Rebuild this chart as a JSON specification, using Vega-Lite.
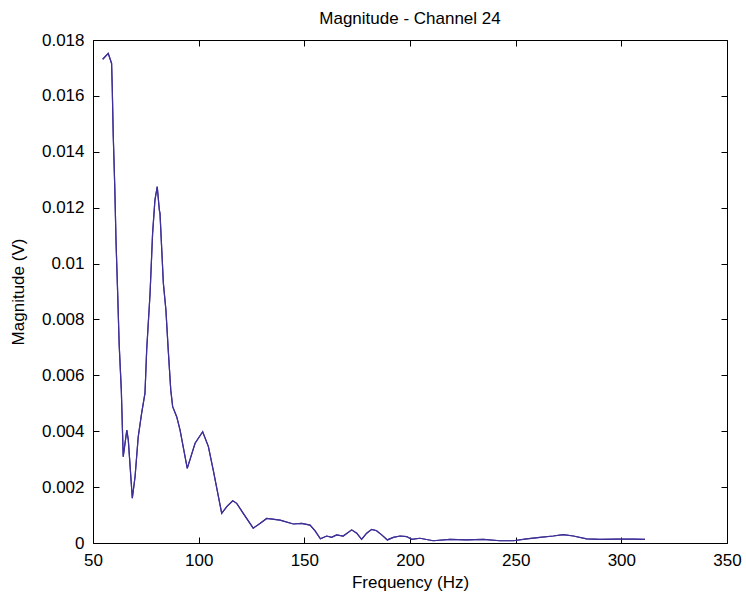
{
  "$schema": "https://vega.github.io/schema/vega-lite/v6.json",
  "autosize": {"type": "none"},
  "padding": {"left": 93, "top": 40, "right": 19, "bottom": 55},
  "width": 634,
  "height": 503,
  "background": "white",
  "title": {"text": "Magnitude - Channel 24", "font": "Liberation Sans", "fontSize": 17, "fontWeight": "normal", "color": "black", "offset": 3, "anchor": "middle"},
  "data": {"values": [
    {"freq": 54.6, "mag": 0.01731}, {"freq": 57.2, "mag": 0.01752}, {"freq": 58.8, "mag": 0.01716}, {"freq": 59.1, "mag": 0.01633},
    {"freq": 59.6, "mag": 0.01454}, {"freq": 60.3, "mag": 0.01275}, {"freq": 60.9, "mag": 0.01078}, {"freq": 61.7, "mag": 0.00887},
    {"freq": 62.4, "mag": 0.00708}, {"freq": 63.4, "mag": 0.00547}, {"freq": 64.3, "mag": 0.00309}, {"freq": 66.0, "mag": 0.00404},
    {"freq": 66.7, "mag": 0.00369}, {"freq": 68.6, "mag": 0.0016}, {"freq": 69.9, "mag": 0.00237}, {"freq": 71.4, "mag": 0.0038},
    {"freq": 73.0, "mag": 0.00464}, {"freq": 74.6, "mag": 0.00536}, {"freq": 75.4, "mag": 0.00691}, {"freq": 77.0, "mag": 0.00893},
    {"freq": 78.2, "mag": 0.01108}, {"freq": 79.3, "mag": 0.01227}, {"freq": 80.4, "mag": 0.01275}, {"freq": 81.4, "mag": 0.01191},
    {"freq": 81.7, "mag": 0.0118}, {"freq": 83.3, "mag": 0.00929}, {"freq": 84.5, "mag": 0.00834}, {"freq": 85.6, "mag": 0.00691},
    {"freq": 86.8, "mag": 0.00547}, {"freq": 87.7, "mag": 0.00488}, {"freq": 89.6, "mag": 0.00452}, {"freq": 91.2, "mag": 0.00404},
    {"freq": 94.6, "mag": 0.00267}, {"freq": 98.3, "mag": 0.00357}, {"freq": 101.9, "mag": 0.00398}, {"freq": 104.6, "mag": 0.00345},
    {"freq": 106.9, "mag": 0.00261}, {"freq": 110.9, "mag": 0.00106}, {"freq": 113.3, "mag": 0.0013}, {"freq": 116.1, "mag": 0.00151},
    {"freq": 118.0, "mag": 0.00142}, {"freq": 121.1, "mag": 0.00106}, {"freq": 125.8, "mag": 0.00053}, {"freq": 129.0, "mag": 0.0007},
    {"freq": 132.2, "mag": 0.00088}, {"freq": 138.5, "mag": 0.00082}, {"freq": 144.8, "mag": 0.00068}, {"freq": 148.7, "mag": 0.0007},
    {"freq": 152.7, "mag": 0.00064}, {"freq": 155.0, "mag": 0.00044}, {"freq": 157.6, "mag": 0.00015}, {"freq": 160.6, "mag": 0.00025},
    {"freq": 162.9, "mag": 0.0002}, {"freq": 165.3, "mag": 0.00029}, {"freq": 168.4, "mag": 0.00025}, {"freq": 172.4, "mag": 0.00047},
    {"freq": 174.8, "mag": 0.00035}, {"freq": 177.1, "mag": 0.00013}, {"freq": 179.5, "mag": 0.00035}, {"freq": 181.9, "mag": 0.00049},
    {"freq": 184.2, "mag": 0.00044}, {"freq": 186.6, "mag": 0.00029}, {"freq": 189.3, "mag": 0.00011}, {"freq": 192.1, "mag": 0.0002},
    {"freq": 195.3, "mag": 0.00025}, {"freq": 198.4, "mag": 0.00023}, {"freq": 200.8, "mag": 0.00013}, {"freq": 204.7, "mag": 0.00017},
    {"freq": 211.0, "mag": 0.00008}, {"freq": 218.9, "mag": 0.00013}, {"freq": 226.8, "mag": 0.00011}, {"freq": 234.7, "mag": 0.00013},
    {"freq": 242.6, "mag": 0.00008}, {"freq": 248.9, "mag": 0.00008}, {"freq": 255.2, "mag": 0.00015}, {"freq": 261.5, "mag": 0.0002},
    {"freq": 267.8, "mag": 0.00025}, {"freq": 272.5, "mag": 0.0003}, {"freq": 277.3, "mag": 0.00025}, {"freq": 283.6, "mag": 0.00015},
    {"freq": 289.9, "mag": 0.00013}, {"freq": 297.8, "mag": 0.00014}, {"freq": 305.7, "mag": 0.00014}, {"freq": 311.2, "mag": 0.00013}
  ]},
  "layer": [
    {
      "mark": {"type": "line", "color": "#3d3096", "strokeWidth": 1.2},
      "encoding": {
        "x": {"field": "freq", "type": "quantitative", "scale": {"domain": [50, 350], "nice": false, "zero": false},
          "axis": {"orient": "bottom", "values": [50, 100, 150, 200, 250, 300, 350], "title": "Frequency (Hz)", "titlePadding": 6, "labelPadding": 9, "labelFlush": false, "offset": -6, "tickSize": 6}},
        "y": {"field": "mag", "type": "quantitative", "scale": {"domain": [0, 0.018], "nice": false},
          "axis": {"orient": "left", "values": [0, 0.002, 0.004, 0.006, 0.008, 0.01, 0.012, 0.014, 0.016, 0.018], "format": "~g", "title": "Magnitude (V)", "titlePadding": 14, "labelPadding": 9, "offset": -6, "tickSize": 6}}
      }
    },
    {
      "mark": {"type": "line", "color": "#3d3096", "strokeWidth": 1.2},
      "encoding": {
        "x": {"field": "freq", "type": "quantitative",
          "axis": {"orient": "top", "values": [50, 100, 150, 200, 250, 300, 350], "labels": false, "title": null, "offset": -6, "tickSize": 6}},
        "y": {"field": "mag", "type": "quantitative",
          "axis": {"orient": "right", "values": [0, 0.002, 0.004, 0.006, 0.008, 0.01, 0.012, 0.014, 0.016, 0.018], "labels": false, "title": null, "offset": -6, "tickSize": 6}}
      }
    }
  ],
  "resolve": {"axis": {"x": "independent", "y": "independent"}},
  "config": {
    "view": {"stroke": "black", "strokeWidth": 1},
    "axis": {"grid": false, "domain": false, "ticks": true, "tickColor": "black", "tickWidth": 1, "labelColor": "black", "titleColor": "black",
      "labelFont": "Liberation Sans", "titleFont": "Liberation Sans", "labelFontSize": 17, "titleFontSize": 17, "titleFontWeight": "normal"}
  }
}
